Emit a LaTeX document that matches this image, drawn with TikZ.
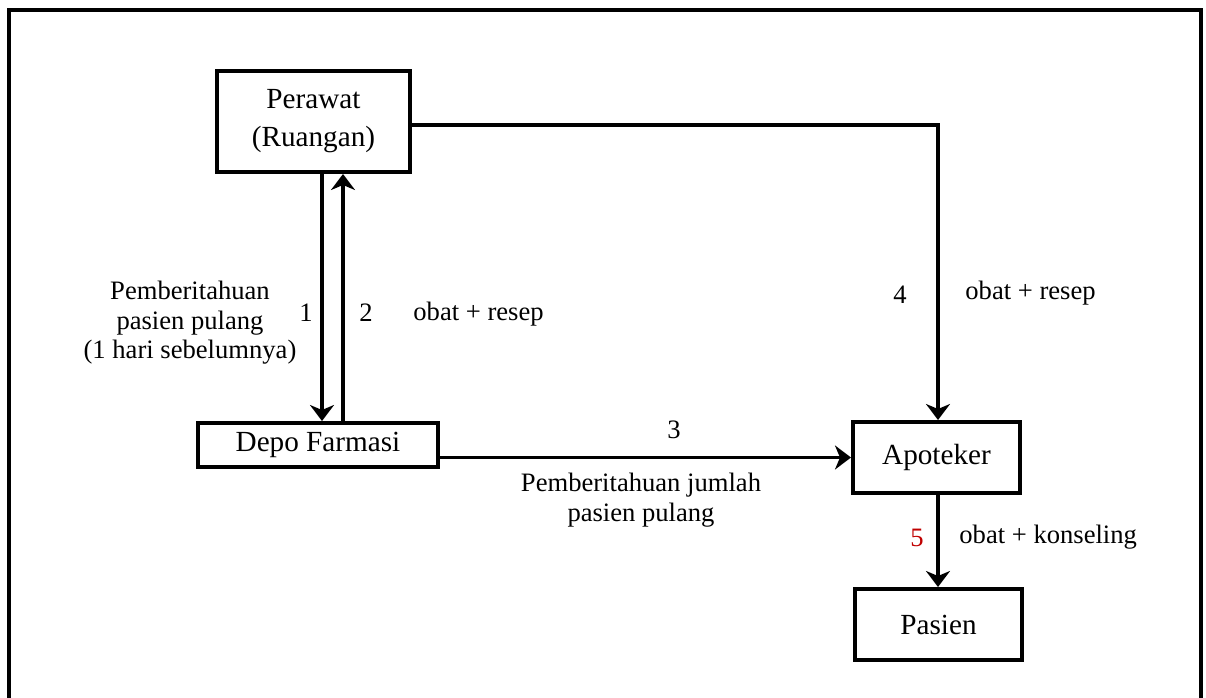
\documentclass[tikz,border=0pt]{standalone}
\usepackage{fontspec}
\setmainfont{Liberation Serif}
\usetikzlibrary{arrows.meta}
\begin{document}
\begin{tikzpicture}[x=0.5pt,y=-0.5pt,
  box/.style={draw,line width=2pt,minimum width=#1,inner sep=0pt,align=center,font=\fontsize{14.6}{19}\selectfont},
  lbl/.style={inner sep=0pt,align=center,font=\fontsize{13.3}{14.7}\selectfont},
  arr/.style={line width=1.8pt,-{Stealth[length=8pt,width=12pt,inset=2.5pt]}},
  frame/.style={line width=1.6pt}]
\useasboundingbox (0,0) rectangle (1206,697);
% outer frame, open at the bottom
\coordinate (fbl) at (9,699);
\coordinate (ftl) at (9,10);
\coordinate (ftr) at (1201,10);
\coordinate (fbr) at (1201,699);
\draw[frame] (fbl) -- (ftl) -- (ftr) -- (fbr);

% boxes
\node[box=96.5pt,minimum height=50.5pt] (per) at (313.5,121.5) {Perawat\\(Ruangan)};
\node[box=120pt,minimum height=22pt] (depo) at (318,445) {Depo Farmasi};
\node[box=83.5pt,minimum height=35.5pt] (apo) at (936.5,457.5) {Apoteker};
\node[box=83.5pt,minimum height=35.5pt] (pas) at (938.5,624.5) {Pasien};

% guide columns for the vertical connectors
\coordinate (c1) at (322,0);
\coordinate (c2) at (343,0);
\coordinate (c4) at (938,125);
\coordinate (c5) at (938,0);

% connectors
\draw[arr] (c1 |- per.south) -- (c1 |- depo.north);
\draw[arr] (c2 |- depo.north) -- (c2 |- per.south);
\draw[arr] (depo.east |- apo.west) -- (apo.west);
\draw[arr] (per.east |- c4) -- (c4) -- (c4 |- apo.north);
\draw[arr] (c5 |- apo.south) -- (c5 |- pas.north);

% labels
\node[lbl] (l1t) at (190,323) {Pemberitahuan\\pasien pulang\\(1 hari sebelumnya)};
\node[lbl] (l1) at (306,313) {1};
\node[lbl] (l2) at (366,313) {2};
\node[lbl,anchor=west] (l2t) at (413,314) {obat + resep};
\node[lbl] (l3) at (674,430) {3};
\node[lbl] (l3t) at (641,500) {Pemberitahuan jumlah\\pasien pulang};
\node[lbl] (l4) at (900,295) {4};
\node[lbl,anchor=west] (l4t) at (965,293) {obat + resep};
\node[lbl,text={rgb,255:red,192;green,0;blue,0}] (l5) at (917,538) {5};
\node[lbl,anchor=west] (l5t) at (959,537) {obat + konseling};
\end{tikzpicture}
\end{document}
